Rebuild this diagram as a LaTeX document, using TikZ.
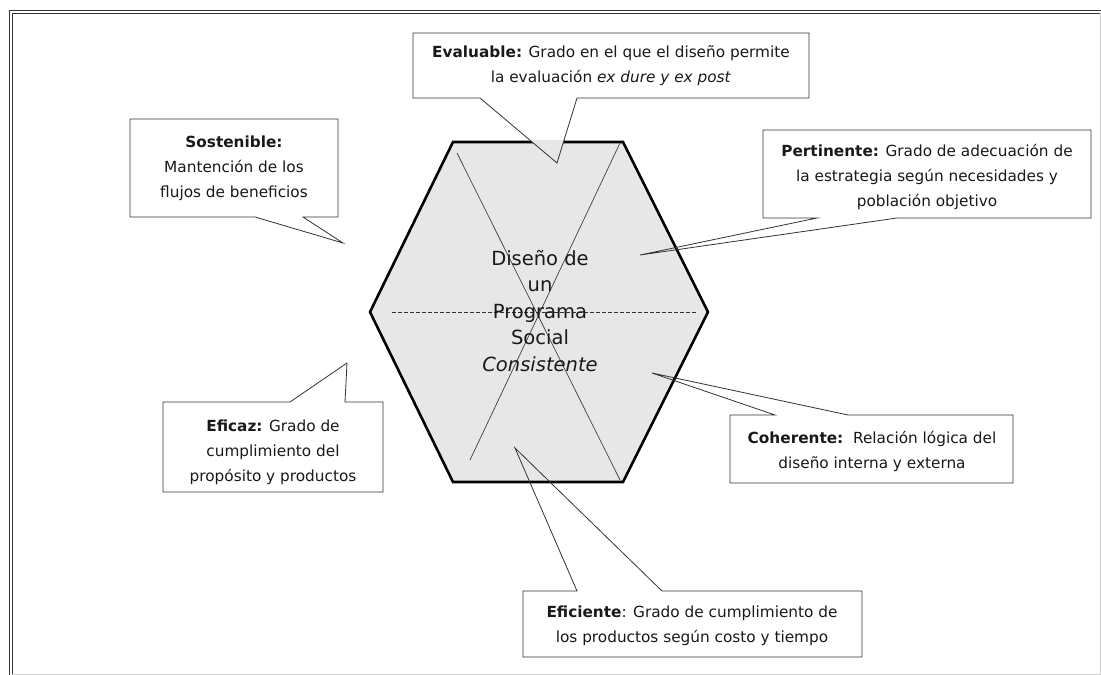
\documentclass[tikz,border=0pt]{standalone}
\usepackage{fontspec}
\setmainfont{DejaVu Sans}
\definecolor{hexgray}{RGB}{231,231,231}
\definecolor{inkc}{RGB}{25,25,25}
\tikzset{
  frameline/.style={draw=black!80, line width=0.9pt},
  faintline/.style={draw=black!18, line width=0.8pt},
  calloutbox/.style={draw=black!80, line width=0.8pt, line join=miter},
  ctext/.style={align=center, font=\fontsize{15.3}{25}\selectfont, inner sep=0pt, text=inkc},
  hexa/.style={fill=hexgray, draw=black, line width=2.6pt, line join=miter},
  hexline/.style={draw=black!75, line width=0.7pt},
  hexdash/.style={draw=black!80, line width=0.7pt, dash pattern=on 4pt off 2pt},
  centertext/.style={align=center, font=\fontsize{19.5}{26.5}\selectfont, inner sep=0pt, text=inkc}
}
\begin{document}
\begin{tikzpicture}[x=1pt, y=-1pt]
\useasboundingbox (0,0) rectangle (1101,675);
\fill[white] (0,0) rectangle (1101,675);
% frame
\draw[frameline] (9,675) -- (9,10) -- (1101,10);
\draw[frameline] (12,675) -- (12,13) -- (1101,13);
\draw[faintline] (12,674) -- (1100,674) -- (1100,13);

% hexagon
\coordinate (h1) at (453,142);
\coordinate (h2) at (623,142);
\coordinate (h3) at (708,312);
\coordinate (h4) at (623,482);
\coordinate (h5) at (453,482);
\coordinate (h6) at (370,312);
\draw[hexa] (h1) -- (h2) -- (h3) -- (h4) -- (h5) -- (h6) -- cycle;

% inner lines
\coordinate (la1) at (457,153);
\coordinate (la2) at (620,480);
\coordinate (lb1) at (620,143);
\coordinate (lb2) at (470,460);
\coordinate (lc1) at (392,312);
\coordinate (lc2) at (697,312);
\draw[hexline] (la1) -- (la2);
\draw[hexline] (lb1) -- (lb2);
\draw[hexdash] (lc1) -- (lc2);

% centre text
\node[centertext] (centro) at (540,311) {Diseño de\\un\\Programa\\Social\\\textit{Consistente}};

% tail tips
\coordinate (tEval) at (557,163);
\coordinate (tSost) at (343,243);
\coordinate (tPert) at (640,255);
\coordinate (tEfic) at (347,363);
\coordinate (tCohe) at (652,373);
\coordinate (tEfie) at (515,448);

% gap of the hexagon edge under the Evaluable tail
\begin{scope}
\clip (480,98) -- (tEval) -- (577,98) -- cycle;
\draw[draw=hexgray, line width=3.2pt] (h1) -- (h2);
\end{scope}

% callouts
\draw[calloutbox] (413,33) -- (809,33) -- (809,98) -- (577,98) -- (tEval) -- (480,98) -- (413,98) -- cycle;
\draw[calloutbox] (130,119) -- (338,119) -- (338,217) -- (303,217) -- (tSost) -- (255,217) -- (130,217) -- cycle;
\draw[calloutbox] (763,130) -- (1091,130) -- (1091,218) -- (897,218) -- (tPert) -- (817,218) -- (763,218) -- cycle;
\draw[calloutbox] (163,402) -- (290,402) -- (tEfic) -- (345,402) -- (383,402) -- (383,492) -- (163,492) -- cycle;
\draw[calloutbox] (730,415) -- (775,415) -- (tCohe) -- (848,415) -- (1013,415) -- (1013,483) -- (730,483) -- cycle;
\draw[calloutbox] (523,591) -- (577,591) -- (tEfie) -- (662,591) -- (862,591) -- (862,657) -- (523,657) -- cycle;

% callout texts
\node[ctext] (evaluable) at (611,66) {\textbf{Evaluable:} Grado en el que el diseño permite\\la evaluación \textit{ex dure y ex post}};
\node[ctext] (sostenible) at (234,168) {\textbf{Sostenible:}\\Mantención de los\\flujos de beneficios};
\node[ctext] (pertinente) at (927,177) {\textbf{Pertinente:} Grado de adecuación de\\la estrategia según necesidades y\\población objetivo};
\node[ctext] (eficaz) at (273,452) {\textbf{Eficaz:} Grado de\\cumplimiento del\\propósito y productos};
\node[ctext] (coherente) at (872,451) {\textbf{Coherente:}\ \ Relación lógica del\\diseño interna y externa};
\node[ctext] (eficiente) at (692,626) {\textbf{Eficiente}: Grado de cumplimiento de\\los productos según costo y tiempo};
\end{tikzpicture}
\end{document}
